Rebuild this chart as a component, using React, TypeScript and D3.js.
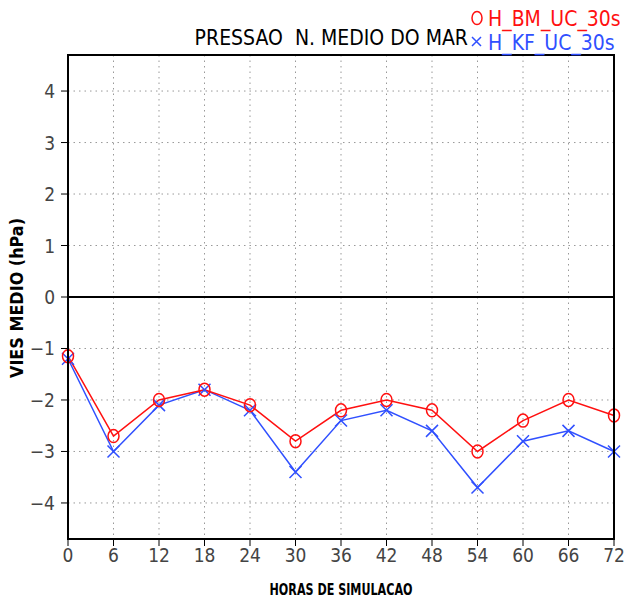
import React from 'react';
import * as d3 from 'd3';

const hours = [0, 6, 12, 18, 24, 30, 36, 42, 48, 54, 60, 66, 72];
const bmValues = [-1.15, -2.7, -2.0, -1.8, -2.1, -2.8, -2.2, -2.0, -2.2, -3.0, -2.4, -2.0, -2.3];
const kfValues = [-1.2, -3.0, -2.1, -1.8, -2.2, -3.4, -2.4, -2.2, -2.6, -3.7, -2.8, -2.6, -3.0];
const yTicks = [-4, -3, -2, -1, 0, 1, 2, 3, 4];

const W = 628;
const H = 601;
const m = { t: 55, r: 14, b: 62, l: 68 };
const FONT = "'Liberation Sans Narrow', 'DejaVu Sans Condensed', 'DejaVu Sans', sans-serif";

export default function App() {
  const x = d3.scaleLinear().domain([0, 72]).range([m.l, W - m.r]);
  const y = d3.scaleLinear().domain([-4.7, 4.7]).range([H - m.b, m.t]);
  const line = d3
    .line<number>()
    .x((_, i) => x(hours[i]))
    .y((d) => y(d));

  const x0 = m.l;
  const x1 = W - m.r;
  const y0 = m.t;
  const y1 = H - m.b;

  return (
    <svg width={W} height={H} style={{ position: 'absolute', left: 0, top: 0, background: '#fff' }}>
      {/* grid */}
      {hours.slice(1, -1).map((h) => (
        <line key={'gx' + h} x1={x(h)} x2={x(h)} y1={y0} y2={y1} stroke="#999" strokeDasharray="1.5,4" />
      ))}
      {yTicks.map((t) => (
        <line key={'gy' + t} x1={x0} x2={x1} y1={y(t)} y2={y(t)} stroke="#999" strokeDasharray="1.5,4" />
      ))}
      <line x1={x0} x2={x1} y1={y(0)} y2={y(0)} stroke="#000" strokeWidth={2} />

      {/* series */}
      <path d={line(kfValues) || ''} fill="none" stroke="#3050ff" strokeWidth={1.5} />
      <path d={line(bmValues) || ''} fill="none" stroke="#ff1010" strokeWidth={1.5} />
      {kfValues.map((v, i) => (
        <path
          key={'k' + i}
          d={`M${x(hours[i]) - 6},${y(v) - 6}L${x(hours[i]) + 6},${y(v) + 6}M${x(hours[i]) - 6},${y(v) + 6}L${x(hours[i]) + 6},${y(v) - 6}`}
          stroke="#3050ff"
          strokeWidth={1.5}
          fill="none"
        />
      ))}
      {bmValues.map((v, i) => (
        <ellipse key={'b' + i} cx={x(hours[i])} cy={y(v)} rx={5.5} ry={6.5} fill="none" stroke="#ff1010" strokeWidth={1.5} />
      ))}

      {/* frame */}
      <rect x={x0} y={y0} width={x1 - x0} height={y1 - y0} fill="none" stroke="#000" strokeWidth={2} />

      {/* x ticks */}
      {hours.map((h) => (
        <g key={'xt' + h}>
          <line x1={x(h)} x2={x(h)} y1={y1} y2={y1 + 7} stroke="#000" />
          <text x={x(h)} y={y1 + 23} textAnchor="middle" fontFamily={FONT} fontSize={19} fill="#444" fontWeight={300}>
            {h}
          </text>
        </g>
      ))}
      {/* y ticks */}
      {yTicks.map((t) => (
        <g key={'yt' + t}>
          <line x1={x0 - 7} x2={x0} y1={y(t)} y2={y(t)} stroke="#000" />
          <text x={x0 - 13} y={y(t) + 7} textAnchor="end" fontFamily={FONT} fontSize={19} fill="#444" fontWeight={300}>
            {t < 0 ? '\u2212' + Math.abs(t) : t}
          </text>
        </g>
      ))}

      {/* labels */}
      <text
        x={341}
        y={595}
        textAnchor="middle"
        fontFamily={FONT}
        fontSize={15}
        fontWeight="bold"
        fill="#000"
        textLength={143}
        lengthAdjust="spacingAndGlyphs"
      >
        HORAS DE SIMULACAO
      </text>
      <text
        transform={`translate(23,298) rotate(-90)`}
        textAnchor="middle"
        fontFamily={FONT}
        fontSize={18}
        fontWeight="bold"
        fill="#000"
        textLength={160}
        lengthAdjust="spacingAndGlyphs"
      >
        VIES MEDIO (hPa)
      </text>
      <text x={468} y={45} textAnchor="end" fontFamily={FONT} fontSize={21} fill="#000">
        PRESSAO{'\u00a0\u00a0'}N. MEDIO DO MAR
      </text>

      {/* legend */}
      <ellipse cx={477} cy={18} rx={5} ry={6.5} fill="none" stroke="#ff1010" strokeWidth={1.5} />
      <text x={488} y={26} fontFamily={FONT} fontSize={21} fill="#ff1010">
        H_BM_UC_30s
      </text>
      <path d="M472,37L481,46M472,46L481,37" stroke="#3050ff" strokeWidth={1.5} />
      <text x={488} y={50} fontFamily={FONT} fontSize={21} fill="#3050ff">
        H_KF_UC_30s
      </text>
    </svg>
  );
}
